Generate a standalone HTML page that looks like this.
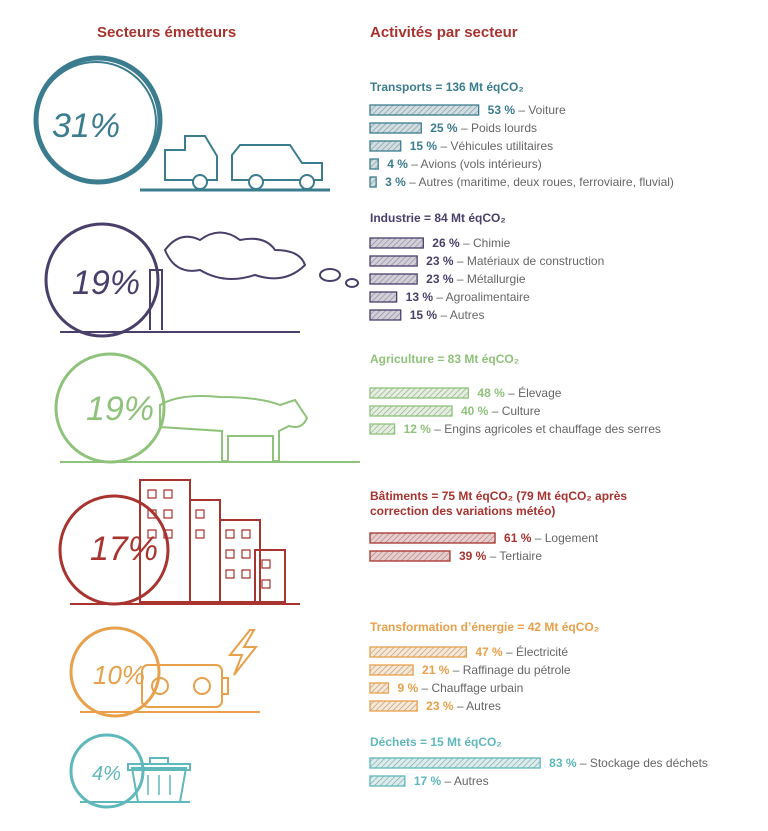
<!DOCTYPE html>
<html><head><meta charset="utf-8"><style>
html,body{margin:0;padding:0;background:#fff;}
svg{display:block;font-family:"Liberation Sans",sans-serif;}
.t{font-weight:bold;font-size:12px;}
.l{font-size:12px;fill:#666;}
.p{font-weight:bold;}
.big{font-size:34px;font-style:italic;}
</style></head><body>
<svg width="768" height="831" viewBox="0 0 768 831">
<defs>
<pattern id="h" width="4" height="4" patternUnits="userSpaceOnUse" patternTransform="rotate(45)">
<line x1="0" y1="0" x2="0" y2="4" stroke="#000" stroke-width="1.2" opacity="0.35"/>
</pattern>
</defs>
<text x="97" y="37" font-size="15" font-weight="bold" fill="#a8332f">Secteurs émetteurs</text>
<text x="370" y="37" font-size="15" font-weight="bold" fill="#a8332f">Activités par secteur</text>

<!-- Transport -->
<g stroke="#3b7d8f" fill="none">
<circle cx="98" cy="120" r="62" stroke-width="5"/>
<circle cx="96" cy="122" r="60" stroke-width="2"/>
<line x1="140" y1="190" x2="330" y2="190" stroke-width="3"/>
<path d="M165 180 v-30 h20 v-14 h20 l12 20 v24 h-52 z" stroke-width="2"/>
<circle cx="200" cy="182" r="7" stroke-width="2" fill="#fff"/>
<path d="M232 180 v-25 l8 -10 h50 l12 18 h20 v17 z" stroke-width="2"/>
<circle cx="256" cy="182" r="7" stroke-width="2" fill="#fff"/>
<circle cx="307" cy="182" r="7" stroke-width="2" fill="#fff"/>
</g>
<text x="52" y="137" class="big" fill="#3b7d8f">31%</text>
<g fill="#3b7d8f">
<text x="370" y="91" class="t">Transports = 136 Mt éqCO₂</text>
</g>

<!-- Industry -->
<g stroke="#4a3f6b" fill="none">
<circle cx="102" cy="280" r="56" stroke-width="3"/>
<line x1="60" y1="332" x2="300" y2="332" stroke-width="2"/>
<path d="M150 330 v-60 h12 v60" stroke-width="2"/>
<path d="M165 250 q15 -20 35 -10 q20 -15 40 0 q25 -5 35 10 q25 0 30 15 q-20 20 -50 10 q-30 10 -55 -5 q-25 5 -35 -20z" stroke-width="2"/>
<ellipse cx="330" cy="275" rx="10" ry="6" stroke-width="2"/>
<ellipse cx="352" cy="283" rx="6" ry="4" stroke-width="2"/>
</g>
<text x="72" y="294" class="big" fill="#4a3f6b">19%</text>

<!-- Agriculture -->
<g stroke="#8fc27a" fill="none">
<circle cx="110" cy="408" r="54" stroke-width="3"/>
<line x1="60" y1="462" x2="360" y2="462" stroke-width="2"/>
<path d="M160 405 q20 -12 60 -8 q40 0 60 8 l15 -5 l12 18 q-5 12 -18 8 l-10 5 v30 h-6 v-25 h-45 v25 h-6 v-30 q-30 -2 -62 -4z" stroke-width="2"/>
</g>
<text x="86" y="420" class="big" fill="#8fc27a">19%</text>

<!-- Buildings -->
<g stroke="#a8332f" fill="none">
<circle cx="114" cy="550" r="54" stroke-width="3"/>
<line x1="70" y1="604" x2="300" y2="604" stroke-width="2"/>
<rect x="140" y="480" width="50" height="122" stroke-width="2"/>
<rect x="190" y="500" width="30" height="102" stroke-width="2"/>
<rect x="220" y="520" width="40" height="82" stroke-width="2"/>
<rect x="255" y="550" width="30" height="52" stroke-width="2"/>
</g>
<g fill="none" stroke="#a8332f" stroke-width="1.2">
<path d="M148 490h8v8h-8zM164 490h8v8h-8zM148 510h8v8h-8zM164 510h8v8h-8zM148 530h8v8h-8zM164 530h8v8h-8zM196 510h8v8h-8zM196 530h8v8h-8zM226 530h8v8h-8zM242 530h8v8h-8zM226 550h8v8h-8zM242 550h8v8h-8zM226 570h8v8h-8zM242 570h8v8h-8zM262 560h8v8h-8zM262 580h8v8h-8z"/>
</g>
<text x="90" y="560" class="big" fill="#a8332f">17%</text>

<!-- Energy -->
<g stroke="#e8a04a" fill="none">
<circle cx="115" cy="672" r="44" stroke-width="3"/>
<line x1="80" y1="712" x2="260" y2="712" stroke-width="2"/>
<rect x="142" y="665" width="80" height="42" rx="6" stroke-width="2"/>
<rect x="222" y="678" width="6" height="16" stroke-width="2"/>
<circle cx="160" cy="686" r="8" stroke-width="2"/>
<circle cx="202" cy="686" r="8" stroke-width="2"/>
<path d="M250 630 l-20 25 h12 l-8 20 l22 -28 h-12 l10 -17z" stroke-width="2"/>
</g>
<text x="93" y="684" font-size="26" font-style="italic" fill="#e8a04a">10%</text>

<!-- Waste -->
<g stroke="#5fb8bb" fill="none">
<circle cx="107" cy="771" r="36" stroke-width="3"/>
<line x1="80" y1="802" x2="190" y2="802" stroke-width="2"/>
<path d="M132 768 h54 l-6 34 h-42 z" stroke-width="2"/>
<path d="M128 764 h62 v6 h-62z M150 764 v-6 h18 v6" stroke-width="2"/>
<path d="M148 775v20M159 775v20M170 775v20" stroke-width="1.5"/>
</g>
<text x="92" y="780" font-size="20" font-style="italic" fill="#5fb8bb">4%</text>

<!-- Bars -->
<g id="bars"></g>
<text x="370" y="222" class="t" fill="#4a3f6b">Industrie = 84 Mt éqCO₂</text>
<text x="370" y="363" class="t" fill="#8fc27a">Agriculture = 83 Mt éqCO₂</text>
<text x="370" y="500" class="t" fill="#a8332f">Bâtiments = 75 Mt éqCO₂ (79 Mt éqCO₂ après</text>
<text x="370" y="515" class="t" fill="#a8332f">correction des variations météo)</text>
<text x="370" y="631" class="t" fill="#e8a04a">Transformation d’énergie = 42 Mt éqCO₂</text>
<text x="370" y="746" class="t" fill="#5fb8bb">Déchets = 15 Mt éqCO₂</text>
</svg>
<script>
var data=[
["#3b7d8f",[[110,53,"Voiture"],[128,25,"Poids lourds"],[146,15,"Véhicules utilitaires"],[164,4,"Avions (vols intérieurs)"],[182,3,"Autres (maritime, deux roues, ferroviaire, fluvial)"]]],
["#4a3f6b",[[243,26,"Chimie"],[261,23,"Matériaux de construction"],[279,23,"Métallurgie"],[297,13,"Agroalimentaire"],[315,15,"Autres"]]],
["#8fc27a",[[393,48,"Élevage"],[411,40,"Culture"],[429,12,"Engins agricoles et chauffage des serres"]]],
["#a8332f",[[538,61,"Logement"],[556,39,"Tertiaire"]]],
["#e8a04a",[[652,47,"Électricité"],[670,21,"Raffinage du pétrole"],[688,9,"Chauffage urbain"],[706,23,"Autres"]]],
["#5fb8bb",[[763,83,"Stockage des déchets"],[781,17,"Autres"]]]];
var ns="http://www.w3.org/2000/svg",g=document.getElementById("bars"),s="";
data.forEach(function(d){var c=d[0];d[1].forEach(function(r){var y=r[0],w=Math.max(6,r[1]*2.05);
s+='<rect x="370" y="'+(y-5)+'" width="'+w+'" height="10" fill="'+c+'" opacity="0.25"/>';
s+='<rect x="370" y="'+(y-5)+'" width="'+w+'" height="10" fill="url(#h)"/>';
s+='<rect x="370" y="'+(y-5)+'" width="'+w+'" height="10" fill="none" stroke="'+c+'" stroke-width="1.3"/>';
s+='<text x="'+(370+w+9)+'" y="'+(y+4)+'" font-size="12" fill="#666"><tspan font-weight="bold" fill="'+c+'">'+r[1]+' %</tspan> – '+r[2]+'</text>';});});
g.innerHTML=s;
</script>
</body></html>
